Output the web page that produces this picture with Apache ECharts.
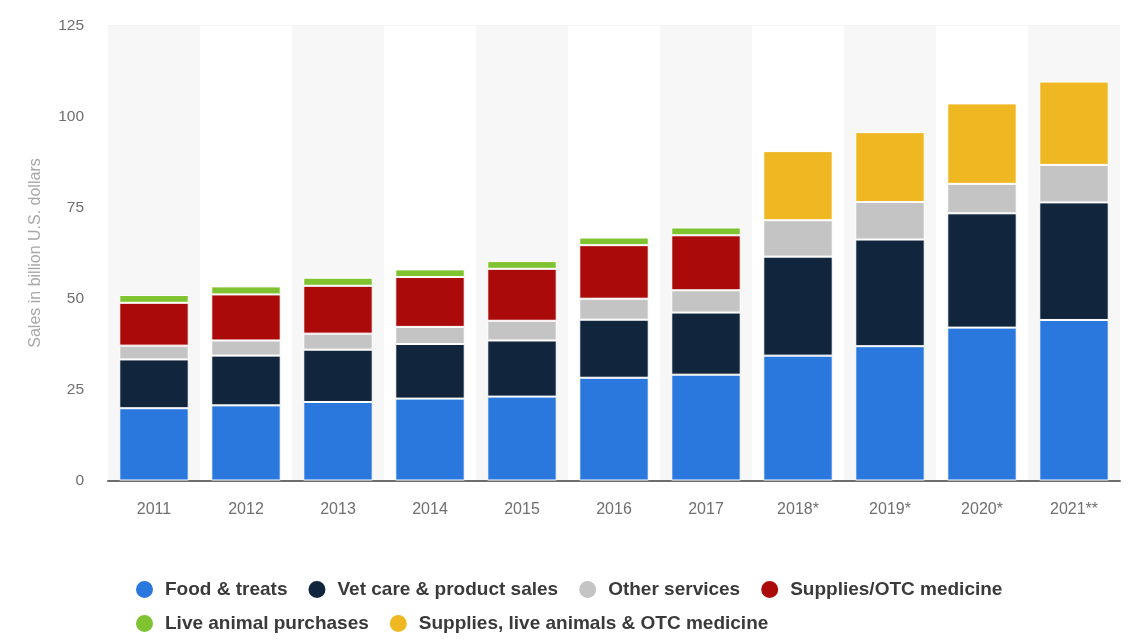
<!DOCTYPE html>
<html>
<head>
<meta charset="utf-8">
<title>Pet industry sales</title>
<script src="https://cdn.jsdelivr.net/npm/echarts@6/dist/echarts.min.js"></script>
<style>
  html, body { margin: 0; padding: 0; background: #ffffff; }
  #chart { width: 1136px; height: 644px; }
</style>
</head>
<body>
<div id="chart"></div>
<script>
// Years shown on the category axis
const years = ['2011', '2012', '2013', '2014', '2015', '2016', '2017', '2018*', '2019*', '2020*', '2021**'];

// Sales in billion U.S. dollars, by segment (null where the segment is not reported)
const foodTreats     = [19.85, 20.64, 21.57, 22.5, 23.05, 28.23, 29.07, 34.3, 36.9, 42.0, 44.1];
const vetCare        = [13.41, 13.67, 14.37, 15.0, 15.42, 15.95, 17.07, 27.2, 29.3, 31.4, 32.3];
const otherServices  = [3.79, 4.16, 4.41, 4.7, 5.41, 5.76, 6.11, 10.0, 10.3, 8.1, 10.3];
const suppliesOtc    = [11.77, 12.65, 13.14, 13.7, 14.28, 14.71, 15.11, null, null, null, null];
const liveAnimals    = [2.15, 2.21, 2.23, 2.1, 2.12, 2.1, 2.15, null, null, null, null];
const suppliesLiveOtc = [null, null, null, null, null, null, null, 19.0, 19.2, 22.1, 22.9];

const yTicks = { min: 0, max: 125, step: 25 };

const seriesDefs = [
  { name: 'Food & treats', data: foodTreats, color: '#2a78de' },
  { name: 'Vet care & product sales', data: vetCare, color: '#11263d' },
  { name: 'Other services', data: otherServices, color: '#c4c4c4' },
  { name: 'Supplies/OTC medicine', data: suppliesOtc, color: '#aa0a0a' },
  { name: 'Live animal purchases', data: liveAnimals, color: '#7fc331' },
  { name: 'Supplies, live animals & OTC medicine', data: suppliesLiveOtc, color: '#efb823' }
];

const baseFont = 'Liberation Sans, Arial, sans-serif';

const legendText = {
  fontFamily: baseFont,
  fontSize: 19,
  fontWeight: 'bold',
  color: '#3a3a3a'
};

const legendCommon = {
  left: 134,
  padding: 0,
  icon: 'circle',
  itemWidth: 31,
  itemHeight: 19,
  itemGap: 19,
  textStyle: legendText
};

const chart = echarts.init(document.getElementById('chart'), null, { renderer: 'canvas' });

chart.setOption({
  backgroundColor: '#ffffff',
  animation: false,
  grid: { left: 108, right: 16, top: 25.5, bottom: 163.5, containLabel: false },
  legend: [
    Object.assign({ data: seriesDefs.slice(0, 4).map(s => s.name), top: 579 }, legendCommon),
    Object.assign({ data: seriesDefs.slice(4).map(s => s.name), top: 613 }, legendCommon)
  ],
  xAxis: {
    type: 'category',
    data: years,
    axisLine: { show: true, lineStyle: { color: '#6e6e6e', width: 2 } },
    axisTick: { show: false },
    axisLabel: {
      margin: 21,
      fontFamily: baseFont,
      fontSize: 16, color: '#6f6f6f'
    },
    splitArea: { show: true, areaStyle: { color: ['#f7f7f7', '#ffffff'] } }
  },
  yAxis: {
    type: 'value',
    min: yTicks.min, max: yTicks.max, interval: yTicks.step,
    name: 'Sales in billion U.S. dollars',
    nameLocation: 'middle',
    nameRotate: 90,
    nameGap: 64,
    nameTextStyle: {
      fontFamily: baseFont,
      fontSize: 16, color: '#a8a8a8'
    },
    axisLine: { show: false },
    axisTick: { show: false },
    axisLabel: {
      margin: 24,
      fontFamily: baseFont,
      fontSize: 15.5, color: '#6f6f6f'
    },
    splitLine: { lineStyle: { color: '#e8e8e8', width: 1.5 } }
  },
  series: seriesDefs.map(s => ({
    name: s.name,
    type: 'bar',
    stack: 'sales',
    barWidth: '75.5%',
    data: s.data,
    itemStyle: { color: s.color, borderColor: '#ffffff', borderWidth: 1 },
    emphasis: { disabled: true }
  }))
});
</script>
</body>
</html>
